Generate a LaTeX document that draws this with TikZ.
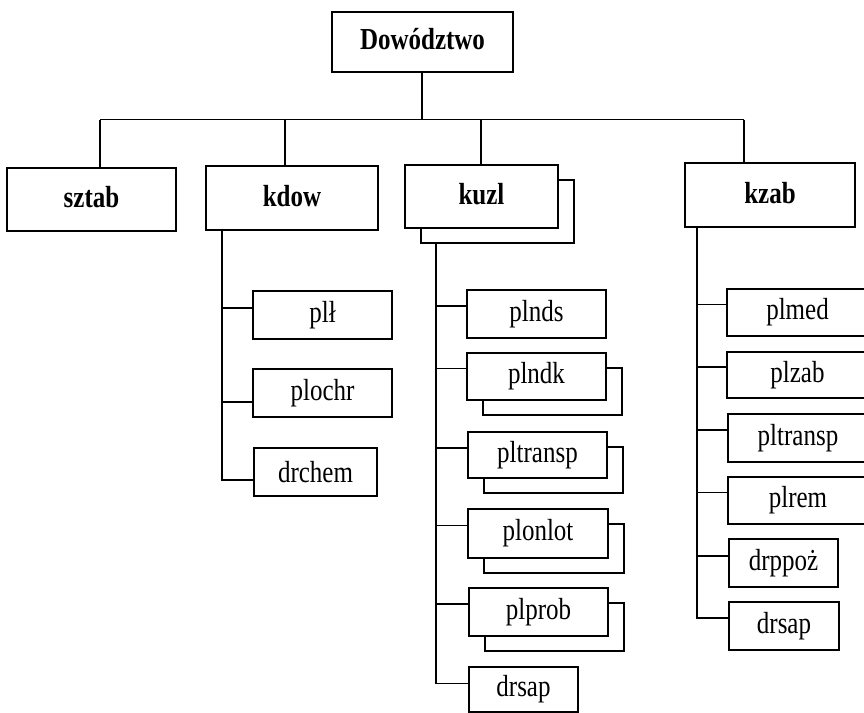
\documentclass[tikz,border=0pt]{standalone}
\usepackage{fontspec}
\usepackage{graphicx}
\setmainfont{Liberation Serif}
\usetikzlibrary{shadows}
\newcommand\tx[1]{\scalebox{1}[1.22]{#1}}
\newcommand\btx[2]{\raisebox{#1}{\scalebox{1}[1.22]{#2}}}
\begin{document}
\begin{tikzpicture}[x=1pt,y=-1pt,
  box/.style={draw=black, line width=1.6pt, fill=white, inner sep=0pt,
    font=\fontsize{25}{30}\selectfont},
  bbox/.style={box, font=\fontsize{25}{30}\selectfont\bfseries},
  dbl/.style={general shadow={draw=black, fill=white, line width=1.6pt,
    shadow xshift=16pt, shadow yshift=-15pt}},
  conn/.style={line width=1.6pt}]
\useasboundingbox (0,0) rectangle (864,712);
% top level
\node[bbox, minimum width=181pt, minimum height=60pt] (top) at (422.5,42) {\btx{6pt}{Dowództwo}};
\node[bbox, minimum width=169pt, minimum height=63pt] (sztab) at (91.5,199.5) {\btx{5pt}{sztab}};
\node[bbox, minimum width=172pt, minimum height=64pt] (kdow) at (292,198) {\btx{5pt}{kdow}};
\node[bbox, dbl, minimum width=153pt, minimum height=63pt] (kuzl) at (481.5,196.5) {\btx{5pt}{kuzl}};
\node[bbox, minimum width=170pt, minimum height=64pt] (kzab) at (770,195) {\btx{5pt}{kzab}};
% bar
\coordinate (b0) at (422,119.5);
\coordinate (b1) at (100,119.5);
\coordinate (b2) at (285,119.5);
\coordinate (b3) at (481,119.5);
\coordinate (b4) at (744,119.5);
\draw[conn] (top.south -| b0) -- (b0);
\draw[conn] (b1) -- (b4);
\draw[conn] (b1) -- (b1 |- sztab.north);
\draw[conn] (b2) -- (b2 |- kdow.north);
\draw[conn] (b3) -- (b3 |- kuzl.north);
\draw[conn] (b4) -- (b4 |- kzab.north);
% kdow column
\coordinate (kd) at (222,0);
\node[box, minimum width=139pt, minimum height=48pt] (pl) at (322.5,315) {\tx{plł}};
\node[box, minimum width=139pt, minimum height=48pt] (plochr) at (322.5,393) {\tx{plochr}};
\node[box, minimum width=123pt, minimum height=48pt] (drchem) at (315.5,472) {\tx{drchem}};
\draw[conn] (kdow.south -| kd) -- ([yshift=-8pt]drchem.west -| kd) -- ([yshift=-8pt]drchem.west);
\draw[conn] ([yshift=7pt]pl.west -| kd) -- ([yshift=7pt]pl.west);
\draw[conn] ([yshift=-9pt]plochr.west -| kd) -- ([yshift=-9pt]plochr.west);
% kuzl column
\coordinate (ku) at (436,0);
\node[box, minimum width=139pt, minimum height=48pt] (plnds) at (536.5,314) {\tx{plnds}};
\node[box, dbl, minimum width=139pt, minimum height=47pt] (plndk) at (536.5,376.5) {\tx{plndk}};
\node[box, dbl, minimum width=139pt, minimum height=46pt] (pltranspA) at (537.5,455) {\tx{pltransp}};
\node[box, dbl, minimum width=140pt, minimum height=49pt] (plonlot) at (538,533.5) {\tx{plonlot}};
\node[box, dbl, minimum width=139pt, minimum height=48pt] (plprob) at (538.5,612) {\tx{plprob}};
\node[box, minimum width=109pt, minimum height=45pt] (drsapA) at (523.5,689.5) {\tx{drsap}};
\draw[conn] ([yshift=-15pt]kuzl.south -| ku) -- ([yshift=6pt]drsapA.west -| ku) -- ([yshift=6pt]drsapA.west);
\draw[conn] ([yshift=8pt]plnds.west -| ku) -- ([yshift=8pt]plnds.west);
\draw[conn] ([yshift=8pt]plndk.west -| ku) -- ([yshift=8pt]plndk.west);
\draw[conn] ([yshift=7pt]pltranspA.west -| ku) -- ([yshift=7pt]pltranspA.west);
\draw[conn] ([yshift=8pt]plonlot.west -| ku) -- ([yshift=8pt]plonlot.west);
\draw[conn] ([yshift=8pt]plprob.west -| ku) -- ([yshift=8pt]plprob.west);
% kzab column
\coordinate (kz) at (697,0);
\node[box, minimum width=141pt, minimum height=47pt] (plmed) at (797.5,312.5) {\tx{plmed}};
\node[box, minimum width=141pt, minimum height=46pt] (plzab) at (797.5,375) {\tx{plzab}};
\node[box, minimum width=140pt, minimum height=48pt] (pltranspB) at (798,438) {\tx{pltransp}};
\node[box, minimum width=140pt, minimum height=47pt] (plrem) at (798,500.5) {\tx{plrem}};
\node[box, minimum width=109pt, minimum height=48pt] (drppoz) at (783.5,563) {\tx{drppoż}};
\node[box, minimum width=110pt, minimum height=48pt] (drsapB) at (784,626) {\tx{drsap}};
\draw[conn] (kzab.south -| kz) -- ([yshift=8pt]drsapB.west -| kz) -- ([yshift=8pt]drsapB.west);
\draw[conn] ([yshift=8pt]plmed.west -| kz) -- ([yshift=8pt]plmed.west);
\draw[conn] ([yshift=8pt]plzab.west -| kz) -- ([yshift=8pt]plzab.west);
\draw[conn] ([yshift=8pt]pltranspB.west -| kz) -- ([yshift=8pt]pltranspB.west);
\draw[conn] ([yshift=8pt]plrem.west -| kz) -- ([yshift=8pt]plrem.west);
\draw[conn] ([yshift=7pt]drppoz.west -| kz) -- ([yshift=7pt]drppoz.west);
\end{tikzpicture}
\end{document}
